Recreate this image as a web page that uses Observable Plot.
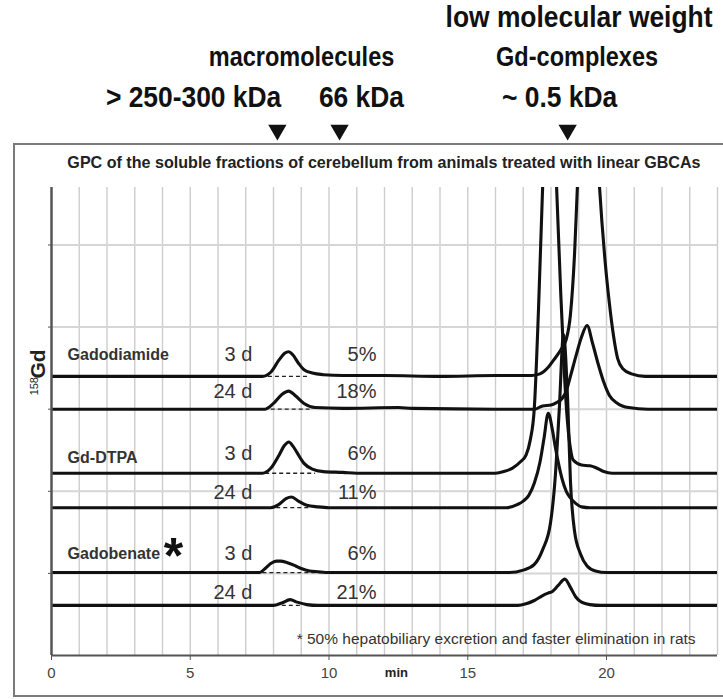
<!DOCTYPE html>
<html><head><meta charset="utf-8">
<script src="https://cdn.jsdelivr.net/npm/d3@7"></script>
<script src="https://cdn.jsdelivr.net/npm/@observablehq/plot@0.6"></script>
<style>
body{margin:0;background:#fff;}
#wrap{position:relative;width:723px;height:699px;overflow:hidden;background:#fff;}
#frame{position:absolute;left:13px;top:143px;width:712px;height:554px;border:2px solid #7a7a7a;box-sizing:border-box;}
#chart{position:absolute;left:0;top:0;}
</style></head><body>
<div id="wrap"><div id="frame"></div><div id="chart"></div></div>
<script>
// ---- data (time in min, signal height above each trace's baseline) ----
const traceNames = ["Gadodiamide 3 d","Gadodiamide 24 d","Gd-DTPA 3 d","Gd-DTPA 24 d","Gadobenate 3 d","Gadobenate 24 d"];
const baselines = [3.40, 3.00, 2.22, 1.80, 1.01, 0.61];

const gadodiamide3d = [[0,0],[7.6,0],[7.9,0.05],[8.2,0.2],[8.4,0.28],[8.55,0.30],[8.7,0.26],[8.9,0.16],[9.1,0.08],[9.4,0.04],[9.8,0.02],[10.5,0.01],[12,0.01],[14,0],[16,0.01],[17.3,0.01],[17.6,0.03],[17.9,0.11],[18.1,0.2],[18.35,0.32],[18.55,0.45],[18.7,0.75],[18.85,1.5],[18.95,2.3],[19.15,3.6],[19.35,4.2],[19.55,3.6],[19.75,2.3],[19.95,1.4],[20.1,0.9],[20.25,0.5],[20.4,0.22],[20.6,0.09],[20.9,0.03],[21.4,0],[24,0]];
const gadodiamide24d = [[0,0],[7.7,0],[8.0,0.07],[8.3,0.18],[8.55,0.22],[8.8,0.16],[9.1,0.07],[9.5,0.02],[10.5,0.01],[12.5,0.02],[13,0.01],[16,0],[17.4,0],[17.7,0.04],[18.0,0.05],[18.2,0.08],[18.4,0.13],[18.55,0.22],[18.7,0.4],[18.9,0.65],[19.1,0.88],[19.3,1.02],[19.5,0.8],[19.7,0.55],[19.9,0.33],[20.1,0.17],[20.4,0.07],[20.8,0.02],[21.5,0],[24,0]];
const gdDTPA3d = [[0,0],[7.6,0],[7.9,0.06],[8.2,0.22],[8.4,0.34],[8.55,0.38],[8.7,0.33],[8.85,0.25],[9.1,0.12],[9.4,0.05],[9.8,0.02],[10.5,0.01],[11,0],[16,0],[16.3,0.02],[16.6,0.06],[16.9,0.14],[17.1,0.22],[17.25,0.4],[17.4,0.8],[17.55,2.0],[17.7,3.5],[17.95,5.5],[18.2,3.5],[18.35,2.2],[18.5,1.1],[18.6,0.6],[18.7,0.3],[18.8,0.16],[19.1,0.1],[19.4,0.09],[19.6,0.07],[19.9,0.02],[20.2,0],[24,0]];
const gdDTPA24d = [[0,0],[7.9,0],[8.2,0.04],[8.45,0.11],[8.65,0.13],[8.9,0.08],[9.2,0.03],[9.6,0.01],[10,0],[16.4,0],[16.8,0.04],[17.0,0.08],[17.2,0.15],[17.4,0.3],[17.6,0.55],[17.75,0.85],[17.9,1.15],[18.05,0.95],[18.15,0.75],[18.27,0.54],[18.4,0.35],[18.55,0.2],[18.7,0.12],[18.9,0.05],[19.1,0.01],[19.4,0],[24,0]];
const gadobenate3d = [[0,0],[7.5,0],[7.7,0.05],[7.9,0.11],[8.1,0.14],[8.25,0.14],[8.5,0.12],[8.8,0.08],[9.0,0.05],[9.3,0.02],[9.6,0.01],[10,0],[16.5,0],[17.0,0.03],[17.4,0.1],[17.7,0.28],[17.98,0.6],[18.15,1.15],[18.3,2.0],[18.45,2.9],[18.6,2.1],[18.7,1.12],[18.85,0.5],[19.06,0.23],[19.3,0.08],[19.6,0.02],[20,0],[24,0]];
const gadobenate24d = [[0,0],[8.0,0],[8.3,0.03],[8.6,0.07],[8.85,0.04],[9.2,0.01],[9.6,0],[16.8,0],[17.1,0.02],[17.4,0.06],[17.7,0.12],[17.9,0.15],[18.05,0.17],[18.25,0.24],[18.5,0.32],[18.7,0.22],[18.9,0.1],[19.1,0.04],[19.4,0.01],[19.8,0],[24,0]];
const traces = [gadodiamide3d, gadodiamide24d, gdDTPA3d, gdDTPA24d, gadobenate3d, gadobenate24d];

// dashed integration baselines under the macromolecule peaks [start, end] (min)
const dashStart = [7.8, 7.9, 7.7, 8.1, 7.6, 8.3];
const dashEnd   = [9.3, 9.3, 9.5, 9.3, 9.9, 9.0];

// labels
const drugNames = ["Gadodiamide", "Gd-DTPA", "Gadobenate"];
const drugLabelY = [3.66, 2.41, 1.24];
const drugLabelX = [0.58, 0.58, 0.58];
const dayLabels = ["3 d","24 d","3 d","24 d","3 d","24 d"];
const pctLabels = ["5%","18%","6%","11%","6%","21%"];
const labelY = [3.66, 3.21, 2.46, 1.99, 1.24, 0.77];
const dayLabelX = 7.24;
const pctLabelX = 11.71;

const xTicks = [0, 5, 10, 15, 20];
const xGrid = d3.range(1, 25);
const yGrid = [1, 2, 3, 4, 5];

const title = "GPC of the soluble fractions of cerebellum from animals treated with linear GBCAs";
const footnote = "* 50% hepatobiliary excretion and faster elimination in rats";

// header annotations above the chart
const headRow1 = [{x: 19.01, y: 7.77, text: "low molecular weight"}];
const headRow2 = [{x: 9.01, y: 7.29, text: "macromolecules"}, {x: 18.94, y: 7.29, text: "Gd-complexes"}];
const headRow3 = [{x: 5.12, y: 6.80, text: "> 250-300 kDa"}, {x: 11.17, y: 6.80, text: "66 kDa"}, {x: 18.31, y: 6.80, text: "~ 0.5 kDa"}];
const markerX = [8.14, 10.38, 18.6];
const markerY = 6.40;

// ---- build tables ----
const rows = traces.flatMap((tr, i) => tr.map(([t, v]) => ({trace: traceNames[i], t, y: baselines[i] + v})));
const dashes = baselines.map((b, i) => ({x1: dashStart[i], x2: dashEnd[i], y: b}));
const dayRows = dayLabels.map((d, i) => ({x: dayLabelX, y: labelY[i], text: d}));
const pctRows = pctLabels.map((p, i) => ({x: pctLabelX, y: labelY[i], text: p}));
const drugRows = drugNames.map((d, i) => ({x: drugLabelX[i], y: drugLabelY[i], text: d}));

const FONT = "'Liberation Sans', Arial, Helvetica, sans-serif";

const chart = Plot.plot({
  width: 723, height: 699,
  marginLeft: 51, marginRight: 6, marginTop: 187, marginBottom: 44,
  style: {background: "transparent", fontFamily: FONT, overflow: "visible"},
  x: {domain: [0, 24], label: null},
  y: {domain: [0, 5.7], label: null},
  marks: [
    Plot.ruleX(xGrid, {stroke: "#cdcdcd", strokeWidth: 1.4}),
    Plot.ruleY(yGrid, {stroke: "#d6d6d6", strokeWidth: 2}),
    Plot.link(dashes, {x1: "x1", x2: "x2", y1: "y", y2: "y", stroke: "#222", strokeWidth: 1.3, strokeDasharray: "4,3"}),
    Plot.line(rows, {x: "t", y: "y", z: "trace", curve: "monotone-x", stroke: "#111", strokeWidth: 3.1, strokeLinejoin: "round", clip: true}),
    Plot.ruleX([0], {stroke: "#555", strokeWidth: 2.5}),
    Plot.ruleY([0], {stroke: "#555", strokeWidth: 2}),
    Plot.axisX({ticks: xTicks, tickSize: 5, tickPadding: 7, fontSize: 15, color: "#444", label: null, stroke: "#555"}),
    Plot.axisY({ticks: yGrid, tickSize: 3, tickFormat: () => "", label: null, stroke: "#555"}),
    Plot.text([{x: 12.43, y: -0.21, text: "min"}], {x: "x", y: "y", text: "text", fontSize: 13, fontWeight: "bold", fill: "#222"}),
    Plot.text([{x: 11.98, y: 6.0, text: title}], {x: "x", y: "y", text: "text", fontSize: 16.1, fontWeight: "bold", fill: "#222"}),
    Plot.text([{x: 23.21, y: 0.195, text: footnote}], {x: "x", y: "y", text: "text", fontSize: 15.5, textAnchor: "end", fill: "#333"}),
    Plot.text(drugRows, {x: "x", y: "y", text: "text", fontSize: 16, fontWeight: "bold", textAnchor: "start", fill: "#333"}),
    Plot.text([{x: 4.40, y: 1.20, text: "*"}], {x: "x", y: "y", text: "text", fontSize: 50, fontWeight: "bold", fill: "#111"}),
    Plot.text(dayRows, {x: "x", y: "y", text: "text", fontSize: 20, textAnchor: "end", fill: "#333"}),
    Plot.text(pctRows, {x: "x", y: "y", text: "text", fontSize: 20, textAnchor: "end", fill: "#333"}),
    Plot.text([{x: -0.47, y: 3.55, text: "Gd"}], {x: "x", y: "y", text: "text", fontSize: 21, fontWeight: "bold", rotate: -90, fill: "#222"}),
    Plot.text([{x: -0.63, y: 3.28, text: "158"}], {x: "x", y: "y", text: "text", fontSize: 11, rotate: -90, fill: "#222"}),
    Plot.text(headRow1, {x: "x", y: "y", text: "text", fontSize: 30, fontWeight: "bold", fill: "#111", className: "hdr88"}),
    Plot.text(headRow2, {x: "x", y: "y", text: "text", fontSize: 28, fontWeight: "bold", fill: "#111", className: "hdr84"}),
    Plot.text(headRow3, {x: "x", y: "y", text: "text", fontSize: 30, fontWeight: "bold", fill: "#111", className: "hdr88"}),
    Plot.dot(markerX, {x: d => d, y: () => markerY, symbol: "triangle", rotate: 180, r: 6.8, fill: "#111", stroke: "none"})
  ]
});
// condense the header lettering (narrow typeface look)
const squeeze = (sel, k) => d3.select(chart).selectAll(sel + " text").each(function () {
  const t = this.getAttribute("transform") || "";
  this.setAttribute("transform", t + ` scale(${k},1)`);
});
squeeze(".hdr88", 0.88);
squeeze(".hdr84", 0.84);
document.getElementById("chart").appendChild(chart);
</script>
</body></html>
